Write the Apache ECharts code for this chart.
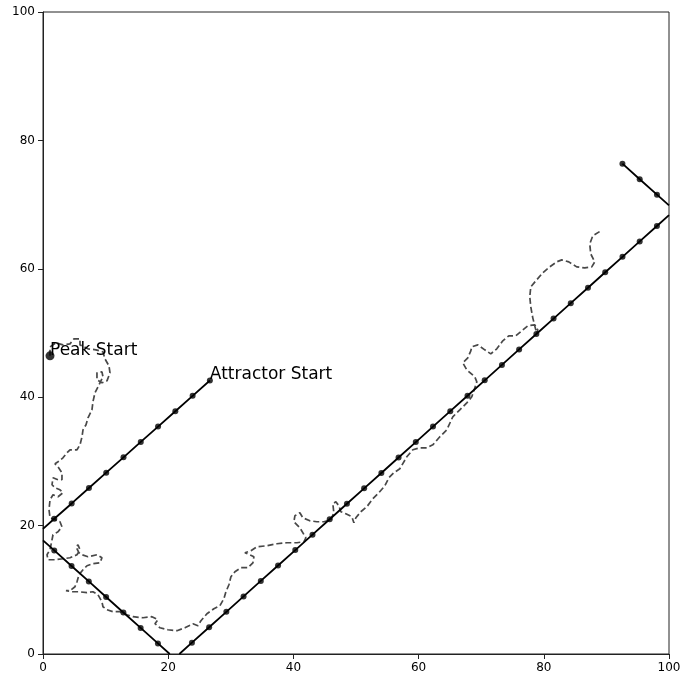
<!DOCTYPE html>
<html><head><meta charset="utf-8">
<script src="https://cdn.jsdelivr.net/npm/echarts@6/dist/echarts.min.js"></script>
<style>html,body{margin:0;padding:0;background:#fff}#c{width:691px;height:674px}</style>
</head><body><div id="c"></div>
<script>
// Attractor path (time order). null = break in line; dot flag 0 = wall contact point (no marker)
const attractorX = [26.66, 23.90, 21.14, 18.38, 15.62, 12.86, 10.10, 7.34, 4.58, 1.80, 0.00, null,
  0.00, 1.80, 4.56, 7.32, 10.08, 12.84, 15.60, 18.36, 20.25, null,
  21.78, 23.79, 26.54, 29.29, 32.04, 34.79, 37.55, 40.30, 43.05, 45.80, 48.55, 51.30, 54.05, 56.80, 59.55,
  62.30, 65.06, 67.81, 70.56, 73.31, 76.06, 78.81, 81.56, 84.31, 87.06, 89.81, 92.57, 95.32, 98.07, 100.00, null,
  100.00, 98.08, 95.32, 92.56];
const attractorY = [42.60, 40.21, 37.81, 35.42, 33.03, 30.63, 28.24, 25.85, 23.45, 21.06, 19.50, null,
  17.70, 16.13, 13.71, 11.30, 8.88, 6.47, 4.06, 1.65, 0.00, null,
  0.00, 1.76, 4.16, 6.57, 8.97, 11.38, 13.78, 16.18, 18.59, 20.99, 23.40, 25.80, 28.20, 30.61, 33.01,
  35.42, 37.82, 40.22, 42.63, 45.03, 47.44, 49.84, 52.24, 54.65, 57.05, 59.46, 61.86, 64.26, 66.67, 68.36, null,
  69.87, 71.55, 73.95, 76.38];
const attractorDot = [1,1,1,1,1,1,1,1,1,1,0,0,
  0,1,1,1,1,1,1,1,0,0,
  0,1,1,1,1,1,1,1,1,1,1,1,1,1,1,1,1,1,1,1,1,1,1,1,1,1,1,1,1,0,0,
  0,1,1,1];

// Peak random walk (time order)
const peakX = [1.12,1.12,2.08,3.19,4.31,4.95,5.91,5.91,7.19,8.46,9.58,9.90,10.54,10.70,10.22,9.42,8.62,8.62,9.42,9.58,
  8.78,8.30,7.98,7.82,7.19,6.87,6.39,6.23,5.91,5.43,4.31,3.83,3.19,2.40,1.92,2.40,3.03,3.03,2.40,1.60,
  1.44,1.92,2.71,3.19,2.40,1.60,1.12,0.96,1.12,1.92,2.71,3.03,2.40,1.60,1.44,1.12,0.64,0.80,1.92,3.19,
  4.31,5.43,5.91,5.59,5.27,5.75,6.23,7.19,8.62,9.42,9.10,7.98,7.03,6.39,5.75,5.43,5.11,4.31,3.67,4.63,
  5.75,7.03,7.98,8.78,9.42,9.58,10.22,11.18,12.29,13.41,14.37,15.97,17.40,18.36,17.88,18.68,19.96,21.40,22.67,23.95,
  24.75,25.23,26.19,27.30,28.26,28.90,29.22,29.70,30.02,30.66,31.61,32.73,33.53,33.69,33.05,32.25,33.21,34.17,35.77,37.36,
  38.96,40.56,41.67,41.99,41.03,40.08,40.24,41.03,41.51,42.63,43.75,44.87,45.98,46.46,46.30,46.78,47.26,47.58,48.38,49.34,
  49.66,49.98,50.77,51.73,52.69,53.65,54.61,55.25,56.04,57.00,58.12,59.08,60.19,61.31,62.27,63.39,64.51,65.46,66.58,67.70,
  68.50,69.30,68.98,67.70,67.06,67.86,68.34,68.50,69.46,70.57,71.53,72.49,73.45,74.41,75.52,76.48,77.44,78.56,79.04,78.88,
  78.24,77.92,77.76,77.92,78.72,79.83,80.95,82.07,82.87,83.99,85.26,86.54,87.66,88.14,87.50,87.34,87.82,89.09];
const peakY = [46.44,47.84,48.47,48.15,48.31,49.09,49.09,48.15,47.53,47.38,47.06,45.97,44.88,43.79,42.55,42.24,42.70,43.79,43.95,43.17,
  41.61,40.68,39.28,38.03,36.79,35.70,34.92,33.83,32.58,31.81,31.81,31.34,30.56,29.94,29.63,29.16,28.23,27.14,27.14,27.45,
  26.36,25.89,25.58,25.11,24.49,24.80,24.02,22.47,21.22,20.91,20.60,19.82,19.04,18.57,17.79,16.24,15.46,14.68,14.68,14.84,
  14.99,15.46,16.24,17.02,16.71,15.77,15.46,15.15,15.46,14.99,14.21,14.06,13.75,13.12,12.35,11.26,10.48,9.86,9.86,9.70,
  9.70,9.55,9.70,9.23,8.14,7.36,6.90,6.59,6.59,6.12,5.81,5.65,5.81,5.34,4.72,4.09,3.78,3.63,4.09,4.72,
  4.41,5.18,6.27,7.05,7.52,8.61,9.70,10.79,12.03,12.81,13.44,13.44,14.21,15.15,15.46,15.77,16.08,16.71,16.86,17.17,
  17.33,17.33,17.48,18.10,19.66,20.60,21.53,22.00,21.22,20.75,20.60,20.60,20.91,22.00,23.40,23.71,23.09,22.16,21.84,21.38,
  20.44,21.22,22.16,22.93,24.18,25.11,26.20,27.45,28.23,28.85,30.72,31.81,32.12,32.12,32.58,33.83,34.92,36.95,38.03,39.12,
  40.06,42.39,43.17,44.26,45.35,46.13,47.22,47.84,48.15,47.38,46.75,47.53,48.78,49.56,49.56,50.34,51.12,51.27,50.49,49.87,
  52.36,54.07,55.63,57.19,58.12,59.37,60.30,61.08,61.39,61.08,60.30,60.15,60.30,61.08,62.32,63.88,65.12,65.90];

const peakStartLabel = 'Peak Start';
const attractorStartLabel = 'Attractor Start';
const axisTicks = [0, 20, 40, 60, 80, 100];

const lineData = attractorX.map((x, i) => x === null ? ['-', '-'] : [x, attractorY[i]]);
const dotData = [];
attractorX.forEach((x, i) => { if (x !== null && attractorDot[i]) dotData.push([x, attractorY[i]]); });
const peakData = peakX.map((x, i) => [x, peakY[i]]);

const font = 'DejaVu Sans, sans-serif';
const chart = echarts.init(document.getElementById('c'), null, {renderer: 'canvas'});
const axisCommon = {
  type: 'value', min: axisTicks[0], max: axisTicks[axisTicks.length - 1], interval: 20,
  splitLine: {show: false},
  axisLine: {show: true, onZero: false, lineStyle: {color: '#222', width: 1}},
  axisTick: {show: true, length: 5, lineStyle: {color: '#222', width: 1}},
  axisLabel: {color: '#000', fontSize: 12, fontFamily: font, margin: 8}
};
const labelStyle = {color: '#000', fontSize: 17, fontFamily: font, textBorderWidth: 0, opacity: 1};
chart.setOption({
  animation: false,
  backgroundColor: '#fff',
  grid: {left: 43, right: 22, top: 12, bottom: 20, show: true, borderColor: '#222', borderWidth: 1, backgroundColor: 'transparent'},
  xAxis: Object.assign({}, axisCommon),
  yAxis: Object.assign({}, axisCommon),
  series: [
    {
      type: 'line', data: peakData, showSymbol: false, silent: true, z: 2,
      lineStyle: {color: '#484848', width: 1.7, type: [6, 3]}
    },
    {
      type: 'line', data: lineData, showSymbol: false, connectNulls: false, silent: true, z: 3,
      lineStyle: {color: '#000', width: 1.8}
    },
    {
      type: 'scatter', data: dotData, symbol: 'circle', symbolSize: 6, silent: true, z: 4,
      itemStyle: {color: '#000'}
    },
    {
      type: 'scatter', silent: true, z: 5, symbolSize: 0.1,
      data: [{value: [attractorX[0], attractorY[0]], label: {show: true, formatter: attractorStartLabel}}],
      label: Object.assign({position: [0, 0], align: 'left', verticalAlign: 'bottom', offset: [0, 3]}, labelStyle)
    },
    {
      type: 'scatter', silent: true, z: 5, symbol: 'circle', symbolSize: 9,
      itemStyle: {color: '#000'},
      data: [{value: [peakX[0], peakY[0]], label: {show: true, formatter: peakStartLabel}}],
      label: Object.assign({position: [4.5, 4.5], align: 'left', verticalAlign: 'bottom', offset: [0, 3]}, labelStyle)
    }
  ]
});
</script></body></html>
